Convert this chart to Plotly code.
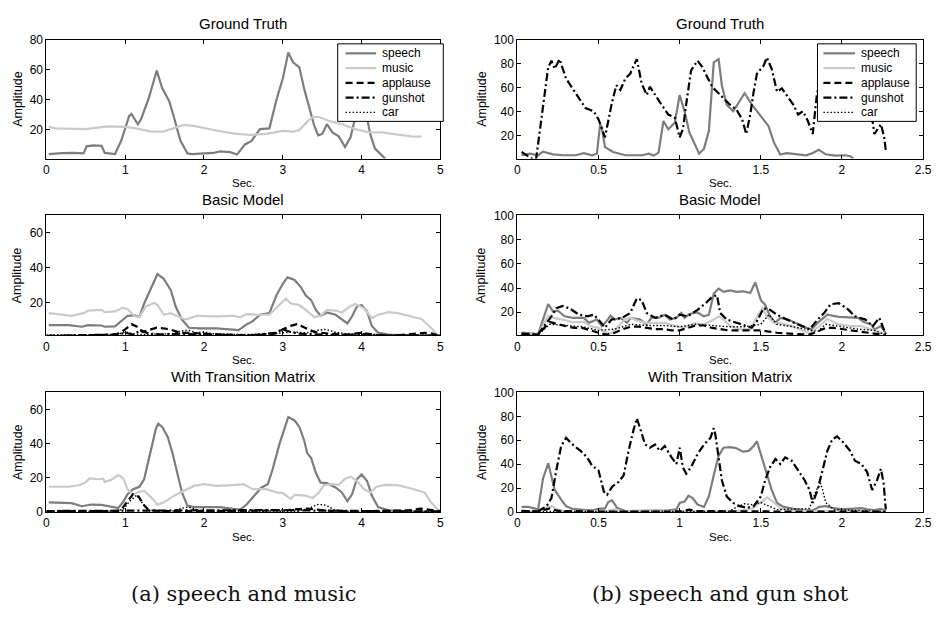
import plotly.graph_objects as go

# ---------------- data (x in Sec., y = Amplitude) ----------------
SERIES = ["speech", "music", "applause", "gunshot", "car"]

# (a) speech and music -- Ground Truth
A_GT_SPEECH = [(0.03,3.5),(0.2,4.2),(0.35,4.3),(0.47,4),(0.51,8.7),(0.6,9.3),(0.7,9),(0.74,4.3),(0.87,3.5),
               (0.95,12.6),(1.05,29),(1.08,30.4),(1.16,23.5),(1.2,26.7),(1.3,41),(1.4,59.3),(1.47,47.4),
               (1.56,38.7),(1.62,27.8),(1.7,12.6),(1.79,4),(1.85,3.5),(2.0,4),(2.12,4.3),(2.2,5.4),(2.33,4.8),
               (2.42,3.3),(2.52,10),(2.6,12.2),(2.71,20.2),(2.83,20.7),(2.92,39.8),(3.0,54),(3.07,71.3),
               (3.13,64.8),(3.21,61.5),(3.27,47.4),(3.33,35.4),(3.4,22.4),(3.45,16),(3.5,17),(3.56,23.5),
               (3.63,18),(3.71,15.4),(3.79,8.3),(3.86,14.8),(3.92,28),(4.0,34),(4.06,30),(4.11,17),(4.17,7.2),
               (4.3,0.5)]
A_GT_MUSIC = [(0.03,21.7),(0.11,20.7),(0.49,20.2),(0.78,22),(0.99,21.7),(1.12,20.9),(1.33,18.5),(1.49,18.7),
              (1.62,20.9),(1.74,23),(1.87,22.4),(2.12,19.6),(2.37,17.4),(2.58,16.3),(2.79,17),(3.0,19),
              (3.13,18.5),(3.21,19.6),(3.31,25.2),(3.38,28.3),(3.46,28.3),(3.59,25.6),(3.75,23.5),(3.92,20.2),
              (4.09,18),(4.26,18),(4.46,16.5),(4.63,15.4),(4.76,15.2)]
A_GT_APPLAUSE = []
A_GT_GUNSHOT = []
A_GT_CAR = []

# (a) Basic Model
A_BM_SPEECH = [(0.03,6.9),(0.28,6.9),(0.45,6),(0.53,6.9),(0.7,6.7),(0.74,6),(0.87,6.2),(0.95,9.2),(1.03,12.3),
               (1.12,12.5),(1.18,11.6),(1.24,19.4),(1.33,28.8),(1.41,36.3),(1.49,33.5),(1.58,26.9),(1.64,17.6),
               (1.72,10.1),(1.81,5.4),(1.95,5),(2.16,5),(2.37,4.5),(2.44,4.1),(2.54,7.3),(2.62,9.2),(2.71,12.9),
               (2.83,13.8),(2.92,24.1),(3.0,30.7),(3.06,34.4),(3.15,32.9),(3.23,28.8),(3.29,24.1),(3.36,21.3),
               (3.42,15.7),(3.48,12.3),(3.56,14.2),(3.67,12.9),(3.75,10.1),(3.82,7.9),(3.88,12),(3.94,17.6),
               (4.0,18.5),(4.07,14.8),(4.13,6.4),(4.21,2.6),(4.34,1.5),(4.6,1.0),(5.0,0.8)]
A_BM_MUSIC = [(0.03,13.8),(0.2,12.9),(0.32,12.3),(0.47,13.8),(0.53,15.3),(0.7,15.7),(0.74,14.4),(0.87,14.8),
              (0.97,17),(1.03,16.1),(1.12,12),(1.18,11.6),(1.26,17.6),(1.37,19.8),(1.41,18.5),(1.49,12.9),
              (1.58,13.8),(1.66,12),(1.77,10.1),(1.91,12.3),(2.16,12),(2.37,12.3),(2.46,11.4),(2.54,13.3),
              (2.67,12.9),(2.83,12.9),(2.96,18.5),(3.04,22.2),(3.1,19.4),(3.21,18.5),(3.29,15.7),(3.4,11.6),
              (3.48,12.3),(3.56,15.7),(3.67,15.3),(3.75,14.2),(3.86,17.9),(3.92,19.1),(4.03,16.6),(4.13,11),
              (4.21,12.9),(4.34,14.4),(4.46,13.8),(4.63,12),(4.76,10.5),(4.86,6.4),(4.97,1)]
A_BM_APPLAUSE = [(0.0,0.5),(0.3,0.7),(0.5,1.0),(0.7,1.2),(0.9,1.8),(1.0,4.5),(1.08,7.5),(1.15,6),(1.22,3),
                 (1.3,4),(1.4,5.5),(1.5,5),(1.6,4),(1.7,2.5),(1.8,2.5),(2.0,2),(2.2,1.5),(2.5,1),(2.7,1.2),
                 (2.9,2),(3.0,4.5),(3.1,6.5),(3.18,7.5),(3.3,5),(3.4,3),(3.6,2),(3.8,1.5),(4.0,2.5),(4.2,1.2),
                 (4.4,0.8),(4.6,1.5),(4.8,2.5),(4.9,2),(5.0,0.5)]
A_BM_GUNSHOT = [(0.0,0.8),(0.5,1.0),(0.9,1.5),(1.0,2.5),(1.1,1.5),(1.2,4),(1.3,2),(1.5,1.5),(1.7,2),(2.0,1.5),
                (2.3,1.2),(2.6,1.0),(2.9,2.5),(3.0,4.5),(3.1,3),(3.2,2),(3.5,1.5),(3.8,1.2),(4.0,1.8),(4.3,1),
                (4.7,1),(5.0,0.8)]
A_BM_CAR = [(0.0,1.2),(0.5,1.2),(0.9,1.5),(1.0,3),(1.1,2),(1.2,1.5),(1.6,2),(1.7,3.5),(1.8,4),(1.9,2.5),(2.0,3),
            (2.1,2),(2.5,1.5),(2.9,2),(3.1,3),(3.3,2.5),(3.45,4),(3.55,4.5),(3.65,3),(3.8,2),(4.2,1.2),(5.0,1.2)]

# (a) With Transition Matrix
A_TM_SPEECH = [(0.03,5.7),(0.2,5.2),(0.32,5.2),(0.45,3.4),(0.57,4.4),(0.7,4.2),(0.82,2.9),(0.91,2.3),(0.97,5.7),
               (1.03,10.5),(1.1,13.4),(1.18,14.8),(1.24,19.2),(1.33,36.4),(1.39,48.9),(1.42,51.7),(1.47,49.8),
               (1.54,44),(1.6,34.5),(1.66,23),(1.72,11.5),(1.79,3.8),(1.87,2.9),(2.04,2.9),(2.2,2.9),(2.37,1.9),
               (2.46,1.5),(2.54,4.4),(2.62,8.6),(2.73,14.4),(2.81,16.3),(2.87,24.9),(2.96,40.2),(3.04,51.7),
               (3.07,55.6),(3.15,53.6),(3.21,49.8),(3.27,42.1),(3.31,34.5),(3.36,31.6),(3.42,23),(3.48,17.2),
               (3.56,16.9),(3.67,14.4),(3.75,11.5),(3.82,6.3),(3.88,10.5),(3.94,19.2),(4.0,22),(4.07,18.2),
               (4.13,9.6),(4.21,2.9),(4.34,1),(4.6,0.5),(5.0,0.3)]
A_TM_MUSIC = [(0.03,14.8),(0.28,14.8),(0.41,15.7),(0.49,17.2),(0.55,19.7),(0.66,19.2),(0.72,19.5),(0.74,17.6),
              (0.82,18.8),(0.91,21.6),(0.97,20.1),(1.03,13.4),(1.1,10),(1.16,11.5),(1.24,12.5),(1.33,8.6),
              (1.41,4.2),(1.49,5.7),(1.62,9.6),(1.74,12.5),(1.87,15.3),(2.0,16.3),(2.16,15.3),(2.37,15.7),
              (2.5,16.3),(2.62,13.4),(2.79,13.4),(2.92,11.5),(3.0,11.1),(3.1,7.7),(3.15,10),(3.29,9.6),
              (3.38,8.2),(3.46,11.5),(3.52,15.7),(3.63,16.3),(3.71,15.9),(3.79,19.5),(3.86,20.7),(3.94,18.2),
              (4.03,13.4),(4.11,11.5),(4.19,14.8),(4.3,15.9),(4.46,15.7),(4.63,13.8),(4.8,11.5),(4.88,5.7),
              (4.99,0.4)]
A_TM_APPLAUSE = [(0.0,0.5),(0.9,0.5),(0.95,1.5),(1.02,6),(1.1,10.5),(1.17,9),(1.24,4),(1.3,1),(1.5,0.5),
                 (2.0,0.5),(2.5,0.7),(3.0,1.0),(3.3,2),(3.4,1.5),(3.6,0.7),(4.0,0.5),(4.6,1),(4.75,2),
                 (4.85,1.5),(5.0,0.5)]
A_TM_GUNSHOT = [(0.0,0.6),(1.0,0.8),(1.5,0.5),(2.0,0.8),(2.5,0.8),(3.0,1.2),(3.5,0.8),(4.0,0.6),(4.5,0.5),
                (5.0,0.3)]
A_TM_CAR = [(0.0,0.3),(0.9,0.5),(0.98,2),(1.05,6),(1.15,10),(1.22,5),(1.3,1),(1.6,0.5),(1.7,2),(1.8,3),
            (1.9,1.5),(2.0,0.5),(3.2,0.5),(3.35,2.5),(3.45,4.5),(3.55,4),(3.65,1.5),(3.8,0.3),(5.0,0.3)]

# (b) speech and gun shot -- Ground Truth
B_GT_SPEECH = [(0.026,3.7),(0.077,5),(0.128,3.7),(0.158,6.7),(0.22,4.5),(0.28,3.7),(0.36,3.7),(0.41,5.4),
               (0.46,3.7),(0.49,5),(0.51,29.5),(0.52,26.8),(0.54,10.5),(0.59,6.4),(0.665,3.7),(0.77,3.7),
               (0.81,5),(0.84,3.4),(0.87,5.9),(0.9,32.2),(0.93,25.4),(0.97,30.8),(1.0,53.9),(1.03,40.3),
               (1.06,22.7),(1.09,13.2),(1.12,5),(1.15,9.2),(1.18,24.1),(1.21,81),(1.24,83.7),(1.26,62),
               (1.29,45.8),(1.33,40.3),(1.37,48.5),(1.4,55.3),(1.445,45.8),(1.476,40.3),(1.517,33.6),
               (1.547,28.1),(1.58,14.6),(1.62,4.3),(1.66,5.4),(1.72,4.5),(1.78,3.7),(1.82,5.6),(1.857,8.3),
               (1.9,4.5),(1.96,3.4),(2.02,3.7),(2.05,2.9),(2.07,1.0)]
B_GT_MUSIC = []
B_GT_APPLAUSE = []
B_GT_GUNSHOT = [(0.026,6.4),(0.077,2.5),(0.1,0),(0.115,0),(0.128,13),(0.17,56.6),(0.19,77),(0.21,82.4),
                (0.23,75.6),(0.26,83.7),(0.3,67.5),(0.34,59.3),(0.38,51.2),(0.42,43),(0.47,40.3),(0.5,33.6),
                (0.54,18.6),(0.58,45.8),(0.61,62),(0.635,58),(0.665,67.5),(0.695,71.5),(0.726,81),(0.736,83.7),
                (0.766,63.4),(0.797,53.9),(0.817,60.7),(0.848,53.9),(0.888,45.8),(0.93,37.6),(0.97,35),(1.0,18.6),
                (1.02,25.4),(1.04,45.8),(1.07,74.2),(1.11,82.4),(1.14,77),(1.17,68.8),(1.2,60.7),(1.23,56.6),
                (1.27,51.2),(1.31,45.8),(1.35,41.7),(1.385,33.6),(1.41,21.4),(1.435,37.6),(1.456,56.6),
                (1.476,71.5),(1.517,78.3),(1.537,85),(1.567,75.6),(1.6,56.6),(1.63,59.3),(1.66,53.9),(1.7,45.8),
                (1.73,37.6),(1.76,40.3),(1.79,32.2),(1.82,21.4),(1.845,53.9),(1.87,70),(1.9,80),(1.95,78),
                (2.0,65),(2.05,55),(2.1,48),(2.15,40),(2.19,31),(2.2,21.4),(2.24,29.5),(2.26,18.6),(2.27,7.8)]
B_GT_CAR = []

# (b) Basic Model
B_BM_SPEECH = [(0.026,3.1),(0.1,2.6),(0.128,1.8),(0.19,26.8),(0.22,20.6),(0.25,21.2),(0.29,16.6),(0.34,15.3),
               (0.41,15.3),(0.44,11.2),(0.49,13.9),(0.52,8.5),(0.55,12.6),(0.574,17.1),(0.6,13.9),(0.635,15.3),
               (0.675,11.2),(0.7,15.3),(0.756,13.9),(0.797,9.9),(0.827,15.8),(0.868,15.3),(0.908,17.9),
               (0.94,13.9),(0.98,15.3),(1.01,19.3),(1.03,15.3),(1.06,18.5),(1.11,19.8),(1.15,16.6),(1.18,17.9),
               (1.21,35.4),(1.24,39.5),(1.27,36.8),(1.31,38.1),(1.35,36.8),(1.39,37.3),(1.435,36),(1.466,44.8),
               (1.5,30),(1.527,26),(1.557,16.6),(1.59,11.2),(1.62,15.3),(1.67,13.9),(1.71,11.2),(1.74,9.9),
               (1.78,7.2),(1.81,5.8),(1.85,11.2),(1.91,17.9),(1.98,16.1),(2.05,15.3),(2.1,15.3),(2.135,11.8),
               (2.18,9.9),(2.2,5.8),(2.24,8.5),(2.27,2.6)]
B_BM_MUSIC = [(0.026,2.6),(0.128,1.8),(0.19,17.1),(0.22,15.3),(0.28,13.9),(0.34,11.8),(0.41,11.8),(0.45,8.5),
              (0.5,7.2),(0.55,3.1),(0.58,2.6),(0.62,8.5),(0.665,14.4),(0.7,15.3),(0.746,12.6),(0.797,11.2),
              (0.85,11.2),(0.908,11.2),(0.97,8.5),(1.03,7.2),(1.09,10.7),(1.15,9.9),(1.21,13.9),(1.24,16.6),
              (1.27,13.9),(1.31,8.5),(1.375,5.8),(1.435,5.8),(1.466,13.9),(1.51,23.3),(1.537,16.6),(1.58,11.2),
              (1.63,10.7),(1.69,8.5),(1.74,5.8),(1.8,2.6),(1.85,7.2),(1.91,14.4),(1.98,9.9),(2.06,8.5),
              (2.12,8.5),(2.18,5.8),(2.21,4.5),(2.27,1.8)]
B_BM_APPLAUSE = [(0.026,2.0),(0.128,1.5),(0.2,12),(0.25,10),(0.35,7),(0.4,7),(0.5,3),(0.55,1.5),(0.6,3),(0.65,6),
                 (0.7,8),(0.75,8),(0.8,7),(0.85,6),(0.9,6),(0.95,5),(1.0,5),(1.05,7),(1.1,9),(1.15,9),(1.2,7),
                 (1.25,6),(1.3,5),(1.4,5),(1.45,5),(1.5,5),(1.55,4),(1.6,3),(1.7,2),(1.8,1.5),(1.85,4),(1.9,7),
                 (1.95,7),(2.0,6),(2.1,4),(2.2,2),(2.27,1)]
B_BM_GUNSHOT = [(0.026,2.3),(0.128,1.8),(0.18,11.2),(0.21,16.6),(0.24,23.3),(0.28,25.2),(0.32,23.3),(0.38,17.9),
                (0.43,16.6),(0.47,17.9),(0.5,13.9),(0.54,7.2),(0.58,13.9),(0.645,15.3),(0.695,19.3),(0.736,31.4),
                (0.766,30),(0.797,19.3),(0.85,15.3),(0.908,17.9),(0.96,13.9),(1.0,17.9),(1.05,16.6),(1.11,22),
                (1.16,27.4),(1.2,32.7),(1.23,34),(1.25,19.3),(1.29,13.9),(1.35,11.2),(1.405,8.5),(1.445,7.2),
                (1.476,12.6),(1.517,23.3),(1.557,22),(1.6,17.9),(1.66,13.9),(1.71,11.2),(1.76,8.5),(1.8,5.8),
                (1.85,13.9),(1.89,19.3),(1.93,26.6),(1.98,27.4),(2.03,23.3),(2.08,16.6),(2.145,13.9),(2.19,8.5),
                (2.23,15.3),(2.26,4.5),(2.27,1.8)]
B_BM_CAR = [(0.026,1.5),(0.128,1.5),(0.2,10),(0.3,9),(0.4,8),(0.5,5),(0.6,6),(0.7,10),(0.8,9),(0.9,9),(1.0,8),
            (1.1,10),(1.2,9),(1.3,8),(1.4,8),(1.5,10),(1.55,18),(1.6,10),(1.7,8),(1.8,5),(1.85,4),(1.9,10),
            (2.0,8),(2.1,6),(2.2,5),(2.27,1)]

# (b) With Transition Matrix
B_TM_SPEECH = [(0.026,4.3),(0.067,4.3),(0.128,2.2),(0.158,28),(0.19,40.8),(0.21,30.7),(0.23,18.5),(0.27,10.3),
               (0.3,4.9),(0.34,2.7),(0.42,1.6),(0.47,1.6),(0.5,2.7),(0.54,3),(0.56,8.4),(0.584,9.8),(0.614,3.5),
               (0.665,0.8),(0.766,0.8),(0.868,0.8),(0.93,1.4),(0.98,2.2),(1.0,7.6),(1.03,8.7),(1.054,13.6),
               (1.08,11.7),(1.11,6.3),(1.15,4.3),(1.18,13),(1.21,30.7),(1.24,47),(1.27,53.8),(1.31,54.3),
               (1.35,53.3),(1.39,50.5),(1.425,51.1),(1.456,55.2),(1.476,59.2),(1.506,45.7),(1.537,33.4),
               (1.567,18.5),(1.6,7.6),(1.64,4.3),(1.7,2.7),(1.76,1.6),(1.82,1.4),(1.86,4.3),(1.9,4.9),(1.94,3.5),
               (2.0,2.2),(2.06,2.7),(2.12,3.3),(2.155,2.2),(2.2,1.6),(2.24,2.7),(2.27,0.8)]
B_TM_MUSIC = [(0.026,0.5),(0.13,0.5),(0.18,4),(0.21,5),(0.25,2),(0.3,0.5),(0.55,0.5),(0.6,2.5),(0.65,0.5),
              (1.0,0.5),(1.35,0.5),(1.45,3),(1.5,8),(1.54,12.2),(1.58,8),(1.62,3),(1.7,1),(1.9,1),(2.27,0.5)]
B_TM_APPLAUSE = [(0.026,1.0),(0.13,0.5),(0.2,3),(0.25,1),(0.5,0.3),(1.0,0.5),(1.06,2),(1.1,0.8),(1.5,0.5),
                 (2.27,0.3)]
B_TM_GUNSHOT = [(0.026,0.8),(0.128,0.8),(0.18,4.9),(0.21,11.7),(0.24,34.8),(0.27,55.2),(0.3,62),(0.34,56.5),
                (0.39,51.1),(0.43,45.7),(0.46,38.9),(0.5,34.8),(0.533,17.1),(0.553,14.4),(0.584,21.2),
                (0.625,25.3),(0.655,30.7),(0.685,51.1),(0.716,68.8),(0.736,78.3),(0.756,70.1),(0.787,56.5),
                (0.817,53.8),(0.848,56.5),(0.878,51.1),(0.908,55.2),(0.95,45.7),(0.98,40.2),(1.0,53.8),
                (1.02,37.5),(1.04,32.1),(1.07,37.5),(1.11,48.4),(1.15,56.5),(1.19,62),(1.21,70.1),(1.22,64.7),
                (1.24,45.7),(1.26,26.6),(1.29,13),(1.33,7.6),(1.37,4.9),(1.415,3.5),(1.456,4.9),(1.5,13),
                (1.527,26.6),(1.557,37.5),(1.59,44.3),(1.62,40.2),(1.65,45.7),(1.69,42.9),(1.73,34.8),
                (1.77,26.6),(1.8,18.5),(1.82,7.6),(1.85,18.5),(1.88,34.8),(1.91,51.1),(1.94,60.6),(1.97,63.3),
                (2.01,57.9),(2.05,51.1),(2.08,42.9),(2.12,40.2),(2.155,33.4),(2.186,18.5),(2.216,26.6),
                (2.24,36.1),(2.257,23.9),(2.27,2.2)]
B_TM_CAR = [(0.026,0.5),(1.3,0.5),(1.35,4),(1.4,7),(1.45,6),(1.5,8),(1.55,5),(1.6,2),(1.8,3),(1.84,18),
            (1.87,24),(1.9,8),(1.95,2),(2.27,0.5)]

PANELS = [
    (0, 0, "Ground Truth", [A_GT_SPEECH, A_GT_MUSIC, A_GT_APPLAUSE, A_GT_GUNSHOT, A_GT_CAR]),
    (0, 1, "Ground Truth", [B_GT_SPEECH, B_GT_MUSIC, B_GT_APPLAUSE, B_GT_GUNSHOT, B_GT_CAR]),
    (1, 0, "Basic Model", [A_BM_SPEECH, A_BM_MUSIC, A_BM_APPLAUSE, A_BM_GUNSHOT, A_BM_CAR]),
    (1, 1, "Basic Model", [B_BM_SPEECH, B_BM_MUSIC, B_BM_APPLAUSE, B_BM_GUNSHOT, B_BM_CAR]),
    (2, 0, "With Transition Matrix", [A_TM_SPEECH, A_TM_MUSIC, A_TM_APPLAUSE, A_TM_GUNSHOT, A_TM_CAR]),
    (2, 1, "With Transition Matrix", [B_TM_SPEECH, B_TM_MUSIC, B_TM_APPLAUSE, B_TM_GUNSHOT, B_TM_CAR]),
]
X_RANGES = {0: [0, 5], 1: [0, 2.5]}
X_TICKS = {0: [0, 1, 2, 3, 4, 5], 1: [0, 0.5, 1, 1.5, 2, 2.5]}
Y_RANGES = {(0, 0): [0.6, 80], (0, 1): [1, 100], (1, 0): [1, 70], (1, 1): [0.8, 100],
            (2, 0): [0, 70], (2, 1): [0, 100]}
Y_TICKS = {(0, 0): [20, 40, 60, 80], (0, 1): [20, 40, 60, 80, 100], (1, 0): [20, 40, 60],
           (1, 1): [20, 40, 60, 80, 100], (2, 0): [0, 20, 40, 60], (2, 1): [0, 20, 40, 60, 80, 100]}
CAPTIONS = ["(a) speech and music", "(b) speech and gun shot"]

# ---------------- styling / layout ----------------
W, H = 941, 621
FONT = "Liberation Sans, Arial, sans-serif"
STYLE = {
    "speech": dict(color="#7d7d7d", width=2.2, dash="solid"),
    "music": dict(color="#cacaca", width=2.2, dash="solid"),
    "applause": dict(color="black", width=2.2, dash="7px,4px"),
    "gunshot": dict(color="black", width=2.2, dash="8px,3px,2px,3px"),
    "car": dict(color="black", width=1.4, dash="1.5px,2px"),
}
COL_PX = [(44, 443), (521, 932)]
ROW_PX = [(33.3, 155), (213.3, 336), (394.3, 516.7)]
YLABEL_GAP = [29, 36]
LEGEND_BOX = [(339, 446), (825, 925)]
LEGEND_SAMPLE = [(347, 378), (831, 863)]
LEGEND_TOP, LEGEND_BOTTOM, LEGEND_ROW0, LEGEND_PITCH = 37.7, 117, 47.4, 15.1


def fx(p):
    return p / W


def fy(p):
    return 1 - p / H


fig = go.Figure()
layout = dict(width=W, height=H, margin=dict(l=0, r=0, t=0, b=0), showlegend=False,
              paper_bgcolor="white", plot_bgcolor="white",
              font=dict(family=FONT, size=12, color="black"), annotations=[], shapes=[])

for k, (r, c, title, series_data) in enumerate(PANELS):
    idx = "" if k == 0 else str(k + 1)
    xa, ya = "x" + idx, "y" + idx
    for name, pts in zip(SERIES, series_data):
        if not pts:
            continue
        fig.add_trace(go.Scatter(
            x=[p[0] for p in pts], y=[p[1] for p in pts], mode="lines", name=name,
            line=STYLE[name], xaxis=xa, yaxis=ya, hoverinfo="skip"))
    x0, x1 = COL_PX[c]
    y0, y1 = ROW_PX[r]
    common = dict(showline=True, linecolor="black", linewidth=1, mirror="ticks", ticks="inside",
                  ticklen=4, tickcolor="black", showgrid=False, zeroline=False,
                  tickfont=dict(family=FONT, size=12, color="black"))
    layout["xaxis" + idx] = dict(domain=[fx(x0), fx(x1)], anchor=ya, range=X_RANGES[c],
                                 tickvals=X_TICKS[c], **common)
    layout["yaxis" + idx] = dict(domain=[fy(y1), fy(y0)], anchor=xa, range=Y_RANGES[(r, c)],
                                 tickvals=Y_TICKS[(r, c)], **common)
    xc = (x0 + x1) / 2
    layout["annotations"] += [
        dict(text=title, x=fx(xc), y=fy(y0 - 16), xref="paper", yref="paper", showarrow=False,
             xanchor="center", yanchor="middle", font=dict(family=FONT, size=15)),
        dict(text="Sec.", x=fx(xc), y=fy(y1 + 25.5), xref="paper", yref="paper", showarrow=False,
             xanchor="center", yanchor="middle", font=dict(family=FONT, size=11.5)),
        dict(text="Amplitude", x=fx(x0 - YLABEL_GAP[c]), y=fy((y0 + y1) / 2), xref="paper",
             yref="paper", showarrow=False, textangle=-90, xanchor="center", yanchor="middle",
             font=dict(family=FONT, size=12.5)),
    ]

# legend boxes (top row), drawn as a boxed key like the original figure
for c in range(2):
    bx0, bx1 = LEGEND_BOX[c]
    layout["shapes"].append(dict(type="rect", xref="paper", yref="paper", x0=fx(bx0), x1=fx(bx1),
                                 y0=fy(LEGEND_BOTTOM), y1=fy(LEGEND_TOP), fillcolor="white",
                                 line=dict(color="black", width=1), layer="above"))
    sx0, sx1 = LEGEND_SAMPLE[c]
    for i, name in enumerate(SERIES):
        yy = fy(LEGEND_ROW0 + LEGEND_PITCH * i)
        layout["shapes"].append(dict(type="line", xref="paper", yref="paper", x0=fx(sx0), x1=fx(sx1),
                                     y0=yy, y1=yy, line=STYLE[name], layer="above"))
        layout["annotations"].append(dict(text=name, x=fx(sx1 + 4), y=yy, xref="paper", yref="paper",
                                          showarrow=False, xanchor="left", yanchor="middle",
                                          font=dict(family=FONT, size=12)))

for c, cap in enumerate(CAPTIONS):
    xc = (COL_PX[c][0] + COL_PX[c][1]) / 2
    layout["annotations"].append(
        dict(text=cap, x=fx(xc), y=fy(601), xref="paper", yref="paper", showarrow=False,
             xanchor="center", yanchor="middle",
             font=dict(family="DejaVu Serif, serif", size=21, color="#111")))

fig.update_layout(**layout)
# remove the default 8px page margin so the 941x621 figure fills the window exactly,
# and hide the interactive toolbar (a static figure)
fig.write_html("out.html",
               config={"displayModeBar": False, "staticPlot": True},
               post_script="document.body.style.margin='0px';document.body.style.overflow='hidden';")
